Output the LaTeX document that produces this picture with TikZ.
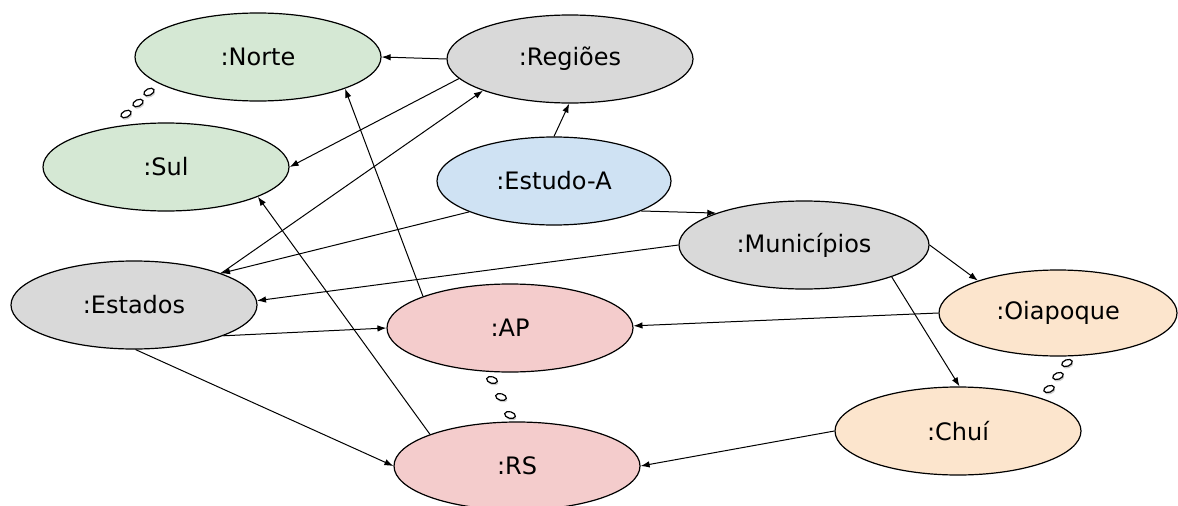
\documentclass[tikz,border=0pt]{standalone}
\usepackage{fontspec}
\setmainfont{DejaVu Sans}
\usetikzlibrary{shapes.geometric,shadows,arrows.meta}

\definecolor{greenFill}{HTML}{D5E8D4}
\definecolor{grayFill}{HTML}{D9D9D9}
\definecolor{blueFill}{HTML}{CFE2F3}
\definecolor{redFill}{HTML}{F4CCCC}
\definecolor{orangeFill}{HTML}{FCE5CD}
\definecolor{strokecol}{rgb}{0,0,0}

\tikzset{
  obj/.style={ellipse, draw=strokecol, line width=1.2pt, inner sep=0, minimum width=246, minimum height=88, font=\fontsize{24}{28}\selectfont},
  link/.style={-{Latex[length=9pt,width=6.5pt]}, draw=strokecol, line width=1pt},
  dotty/.style={ellipse, draw=strokecol, fill=white, line width=1.2pt, inner sep=0, minimum width=11, minimum height=6.5, drop shadow={opacity=0.4, shadow xshift=1pt, shadow yshift=-2pt}}
}

\begin{document}
\begin{tikzpicture}[x=1pt, y=-1pt]

    \useasboundingbox (0,0) rectangle (1178,506);

    % objects
    \node[obj, fill=greenFill] (norte) at (258,57) {:Norte};
    \node[obj, fill=grayFill] (regioes) at (570,59) {:Regiões};
    \node[obj, fill=greenFill] (sul) at (166,167) {:Sul};
    \node[obj, fill=blueFill, minimum width=234] (estudo) at (554,181) {:Estudo-A};
    \node[obj, fill=grayFill, minimum width=250] (municipios) at (804,245) {:Municípios};
    \node[obj, fill=grayFill] (estados) at (134,305) {:Estados};
    \node[obj, fill=redFill] (ap) at (510,328) {:AP};
    \node[obj, fill=orangeFill, minimum width=238, minimum height=86] (oiapoque) at (1058,313) {:Oiapoque};
    \node[obj, fill=orangeFill] (chui) at (958,431) {:Chuí};
    \node[obj, fill=redFill] (rs) at (517,466) {:RS};

    % ellipsis marks
    \node[dotty, rotate=25] (dotA1) at (149,92) {};
    \node[dotty, rotate=25] (dotA2) at (138,103) {};
    \node[dotty, rotate=25] (dotA3) at (126,114) {};

    \node[dotty, rotate=-15] (dotB1) at (492,380) {};
    \node[dotty, rotate=-15] (dotB2) at (501,397) {};
    \node[dotty, rotate=-15] (dotB3) at (510,415) {};

    \node[dotty, rotate=20] (dotC1) at (1067,363) {};
    \node[dotty, rotate=20] (dotC2) at (1058,376) {};
    \node[dotty, rotate=20] (dotC3) at (1049,389) {};

    % links
    \draw[link] (regioes.180) -- (norte.0);
    \draw[link] (regioes.190) -- (sul.0);
    \draw[link] (estados.20) -- (regioes.200);
    \draw[link] (estudo.90) -- (regioes.269);
    \draw[link] (estudo.200) -- (estados.20);
    \draw[link] (estudo.341) -- (municipios.160);
    \draw[link] (municipios.180) -- (estados.2);
    \draw[link] (municipios.0) -- (oiapoque.158);
    \draw[link] (municipios.340) -- (chui.88);
    \draw[link] (estados.341) -- (ap.180);
    \draw[link] (estados.272) -- (rs.180);
    \draw[link] (ap.160) -- (norte.340);
    \draw[link] (rs.160) -- (sul.342);
    \draw[link] (oiapoque.180) -- (ap.1);
    \draw[link] (chui.180) -- (rs.0);

\end{tikzpicture}
\end{document}
